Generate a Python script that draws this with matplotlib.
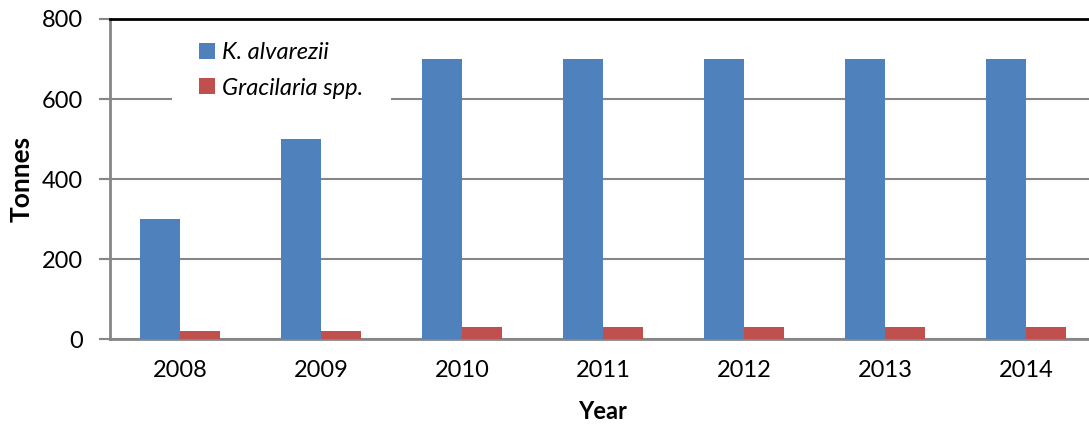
import numpy as np
import matplotlib.pyplot as plt

years = ["2008", "2009", "2010", "2011", "2012", "2013", "2014"]
k_alvarezii = [300, 500, 700, 700, 700, 700, 700]
gracilaria = [20, 20, 30, 30, 30, 30, 30]

series_names = ["K. alvarezii", "Gracilaria spp."]
colors = ["#4F81BD", "#C0504D"]
grid_color = "#868686"

plt.rcParams["font.family"] = ["Lato", "DejaVu Sans"]

fig = plt.figure(figsize=(10.89, 4.26), dpi=100)
ax = fig.add_axes([0.1006, 0.2042, 0.9063, 0.7512])

x = np.arange(len(years))
width = 0.285
ax.bar(x - width / 2, k_alvarezii, width, color=colors[0], label=series_names[0], zorder=3)
ax.bar(x + width / 2, gracilaria, width, color=colors[1], label=series_names[1], zorder=3)

ax.set_xlim(-0.5, 6.5)
ax.set_ylim(0, 800)
ax.set_yticks([0, 200, 400, 600, 800])
ax.set_xticks(x)
ax.set_xticklabels(years)

ax.yaxis.grid(True, color=grid_color, linewidth=1.5)
ax.set_axisbelow(True)

for side in ["left", "bottom"]:
    ax.spines[side].set_color(grid_color)
    ax.spines[side].set_linewidth(2)
ax.spines["top"].set_color("black")
ax.spines["top"].set_linewidth(2)
ax.spines["right"].set_visible(False)

ax.tick_params(axis="y", length=8, width=1.5, color=grid_color, labelsize=17, pad=11)
ax.tick_params(axis="x", length=0, labelsize=17, pad=15)

ax.set_ylabel("Tonnes", fontsize=19, fontweight="bold", labelpad=6)
ax.set_xlabel("Year", fontsize=17, fontweight="bold", labelpad=14)

# white legend box hides part of the 600 gridline, but sits under the top border
leg = ax.legend(loc="upper left", bbox_to_anchor=(0.147, 0.993), bbox_transform=fig.transFigure,
                frameon=True, fancybox=False, handlelength=0.66, handleheight=0.66,
                handletextpad=0.33, labelspacing=0.62, borderpad=1.15,
                prop={"size": 17, "style": "italic"})
leg.get_frame().set_facecolor("white")
leg.get_frame().set_edgecolor("none")
leg.get_frame().set_alpha(1)
leg.set_zorder(2)

fig.savefig("out.png", dpi=100)
